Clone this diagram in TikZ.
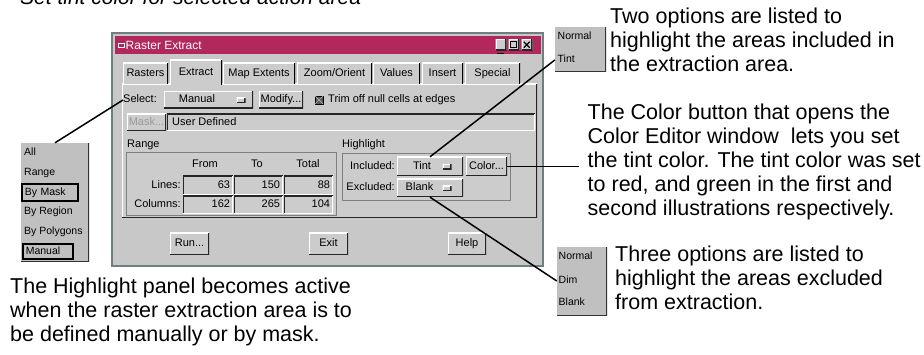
\documentclass[tikz,border=0pt]{standalone}
\usepackage{fontspec}
\setmainfont{Liberation Sans}
\definecolor{winbg}{HTML}{C8C8C8}
\definecolor{panelbg}{HTML}{CCCCCC}
\definecolor{titlebar}{HTML}{B3285C}
\definecolor{wframe}{HTML}{6F7F7F}
\definecolor{listbg}{HTML}{C0C0C0}
\newcommand\guifont{\fontsize{11}{13}\selectfont}
\newcommand\listfont{\fontsize{10.5}{12}\selectfont}
\newcommand\callfont{\fontsize{21.5}{24}\selectfont}
\begin{document}
\begin{tikzpicture}[x=1pt,y=-1pt,
  gui/.style={font=\guifont, inner sep=0pt, text height=8pt, text depth=2.5pt},
  raised/.style={fill=panelbg, path picture={
    \draw[white, line width=2pt] (path picture bounding box.south west) |- (path picture bounding box.north east);
    \draw[black!85, line width=2.4pt] (path picture bounding box.south west) -| (path picture bounding box.north east);}},
  sunken/.style={fill=panelbg, path picture={
    \draw[black!85, line width=2.4pt] (path picture bounding box.south west) |- (path picture bounding box.north east);
    \draw[white, line width=2pt] (path picture bounding box.south west) -| (path picture bounding box.north east);}},
  btn/.style={gui, raised},
  tabbox/.style={gui, fill=panelbg, path picture={
    \draw[white, line width=2pt] (path picture bounding box.south west) |- (path picture bounding box.north east);
    \draw[black, line width=2.4pt] (path picture bounding box.south east) -- (path picture bounding box.north east);}},
  groove/.style={draw=black!50, line width=0.9pt, inner sep=0pt},
  valfield/.style={sunken, gui, text width=#1, align=right, inner xsep=3pt},
  ind/.style={raised, inner sep=0pt, minimum width=9, minimum height=5},
  popbox/.style={fill=listbg, inner sep=0pt, path picture={
    \draw[black!80, line width=2pt] (path picture bounding box.south west) -| (path picture bounding box.north east);}},
  popitem/.style={font=\listfont, inner sep=0pt, text height=7.5pt, text depth=2.3pt, anchor=west},
  calltext/.style={font=\callfont, align=left, inner sep=0pt, anchor=west},
  conn/.style={draw=black, line width=1.5pt},
]
\useasboundingbox (0,0) rectangle (924,355);
\clip (0,0) rectangle (924,355);
\fill[white] (0,0) rectangle (924,355);

% heading (cut off at the top)
\node[anchor=base west, inner sep=0pt, font=\fontsize{21}{24}\selectfont\itshape] (heading) at (20,5) {Set tint color for selected action area};

% ---------------- window ----------------
\node[draw=wframe, line width=1.6pt, fill=winbg, inner sep=0pt, minimum width=431, minimum height=233] (win) at (327.5,149.5) {};
\node[fill=titlebar, inner sep=0pt, minimum width=426, minimum height=18] (tbar) at (327.5,45) {};
\node[draw=white, line width=0.8pt, inner sep=0pt, minimum width=6, minimum height=4] (ticon) at (121,45) {};
\node[anchor=west, inner sep=0pt, text=white, font=\fontsize{12}{14}\selectfont] (ttext) at (125.5,45) {Raster Extract};
\node[raised, minimum width=11, minimum height=11] (bmin) at (501,45) {};
\node[raised, minimum width=11, minimum height=11] (bmax) at (514,45) {};
\node[raised, minimum width=11, minimum height=11] (bclose) at (527,45) {};
\draw[black, line width=1.2pt] ([shift={(2pt,-2.5pt)}]bmin.south west) -- ([shift={(-3pt,-2.5pt)}]bmin.south east);
\draw[black, line width=0.8pt] ([shift={(2.5pt,-2.5pt)}]bmax.north west) rectangle ([shift={(-3pt,3pt)}]bmax.south east);
\draw[black, line width=1.2pt] ([shift={(2.5pt,-2.5pt)}]bclose.north west) -- ([shift={(-3pt,3pt)}]bclose.south east)
  ([shift={(2.5pt,3pt)}]bclose.south west) -- ([shift={(-3pt,-2.5pt)}]bclose.north east);

% panel
\node[raised, inner sep=0pt, minimum width=415, minimum height=134] (panel) at (329.5,151) {};

% tabs
\node[tabbox, minimum width=45, minimum height=21] (tRasters) at (145.5,73.5) {Rasters};
\node[tabbox, minimum width=52, minimum height=25] (tExtract) at (196,72.5) {Extract};
\node[tabbox, minimum width=72, minimum height=21] (tMap) at (259,73.5) {Map Extents};
\node[tabbox, minimum width=75, minimum height=21] (tZoom) at (334.5,73.5) {Zoom/Orient};
\node[tabbox, minimum width=47, minimum height=21] (tValues) at (396.5,73.5) {Values};
\node[tabbox, minimum width=41, minimum height=21] (tInsert) at (442.5,73.5) {Insert};
\node[tabbox, minimum width=55, minimum height=21] (tSpecial) at (492.5,73.5) {Special};

% select row
\node[gui, anchor=west] (sellbl) at (123,100) {Select:};
\node[btn, minimum width=89, minimum height=17] (manual) at (208.5,100) {};
\node[gui] (manualtxt) at (197,100) {Manual};
\node[ind] (manind) at (241,100.5) {};
\node[btn, minimum width=44, minimum height=17] (modify) at (281,100) {Modify...};
\node[draw=black, fill=black!65, inner sep=0pt, minimum width=8, minimum height=8] (chk) at (319,100) {};
\draw[white!70!black, line width=0.7pt] (chk.north west) -- (chk.south east) (chk.south west) -- (chk.north east);
\node[gui, anchor=west] (trim) at (328,100) {Trim off null cells at edges};

% mask row
\node[btn, minimum width=39, minimum height=17, text=black!40] (mask) at (146.5,122.5) {Mask...};
\node[sunken, gui, minimum width=368, minimum height=17] (udfield) at (351,122.5) {};
\node[gui, anchor=west] (udtext) at (172,122.5) {User Defined};

% range group
\node[gui, anchor=west] (rangelbl) at (127,145) {Range};
\node[groove, minimum width=210, minimum height=63] (rangebox) at (231,183.5) {};
\node[gui] (hFrom) at (205,164.5) {From};
\node[gui] (hTo) at (257,164.5) {To};
\node[gui] (hTotal) at (308,164.5) {Total};
\node[gui, anchor=east] (lLines) at (181,185.5) {Lines:};
\node[gui, anchor=east] (lCols) at (181,205) {Columns:};
\node[valfield=44, minimum height=19] (vl1) at (208,185.5) {63};
\node[valfield=43, minimum height=19] (vl2) at (258.5,185.5) {150};
\node[valfield=43, minimum height=19] (vl3) at (308.5,185.5) {88};
\node[valfield=44, minimum height=18] (vc1) at (208,205) {162};
\node[valfield=43, minimum height=18] (vc2) at (258.5,205) {265};
\node[valfield=43, minimum height=18] (vc3) at (308.5,205) {104};

% highlight group
\node[gui, anchor=west] (hllbl) at (342,145) {Highlight};
\node[groove, minimum width=168, minimum height=47] (hlbox) at (426,176.5) {};
\node[gui, anchor=east] (incl) at (395,166.5) {Included:};
\node[gui, anchor=east] (excl) at (395,188) {Excluded:};
\node[btn, minimum width=66, minimum height=19] (tint) at (430,166.5) {};
\node[gui] (tinttxt) at (422,166.5) {Tint};
\node[ind] (tintind) at (447,167) {};
\node[btn, minimum width=41, minimum height=19] (color) at (486.5,166.5) {Color...};
\node[btn, minimum width=66, minimum height=18] (blank) at (430,188) {};
\node[gui] (blanktxt) at (419.5,188) {Blank};
\node[ind] (blankind) at (447,188.5) {};

% bottom buttons
\node[btn, minimum width=39, minimum height=22] (run) at (189.5,244) {Run...};
\node[btn, minimum width=39, minimum height=22] (exit) at (328.5,244) {Exit};
\node[btn, minimum width=38, minimum height=22] (help) at (467,244) {Help};

% ---------------- pop-up lists ----------------
\node[popbox, minimum width=68, minimum height=119] (list) at (55,202.5) {};
\node[popitem, inner xsep=3pt] (iAll) at (21,153) {All};
\node[popitem, inner xsep=3pt] (iRange) at (21,173) {Range};
\node[popitem, inner xsep=3pt, draw=black, line width=1.6pt, text width=50pt, minimum height=17] (iMask) at (21,192.5) {By Mask};
\node[popitem, inner xsep=3pt] (iRegion) at (21,212) {By Region};
\node[popitem, inner xsep=3pt] (iPoly) at (21,232) {By Polygons};
\node[popitem, inner xsep=3pt, draw=black, line width=1.6pt, text width=44pt, minimum height=15] (iManual) at (22,251.5) {Manual};

\node[popbox, minimum width=51, minimum height=45] (ntbox) at (580.5,49.5) {};
\node[popitem] (ntNormal) at (557.5,37) {Normal};
\node[popitem] (ntTint) at (557.5,60) {Tint};

\node[popbox, minimum width=50, minimum height=69] (ndb) at (582,281.5) {};
\node[popitem] (ndbNormal) at (558.5,257) {Normal};
\node[popitem] (ndbDim) at (558.5,281) {Dim};
\node[popitem] (ndbBlank) at (558.5,303) {Blank};

% ---------------- callout texts ----------------
\node[calltext] (txtInc) at (610,40) {Two options are listed to\\highlight the areas included in\\the extraction area.};
\node[calltext] (txtColor) at (587.5,162) {The Color button that opens the\\Color Editor window\ \ lets you set\\the tint color. The tint color was set\\to red, and green in the first and\\second illustrations respectively.};
\node[calltext] (txtExc) at (615,278) {Three options are listed to\\highlight the areas excluded\\from extraction.};
\node[calltext] (txtHl) at (10,311.5) {The Highlight panel becomes active\\when the raster extraction area is to\\be defined manually or by mask.};

% ---------------- connectors ----------------
\coordinate (colend) at (579,166.5);
\draw[conn] (list.north) -- (sellbl.west);
\draw[conn] (tint.north) -- (ntbox.west |- ntTint.center);
\draw[conn] (color.east) -- (colend);
\draw[conn] (blank.south) -- (ndb.west |- ndbDim.center);
\end{tikzpicture}
\end{document}
